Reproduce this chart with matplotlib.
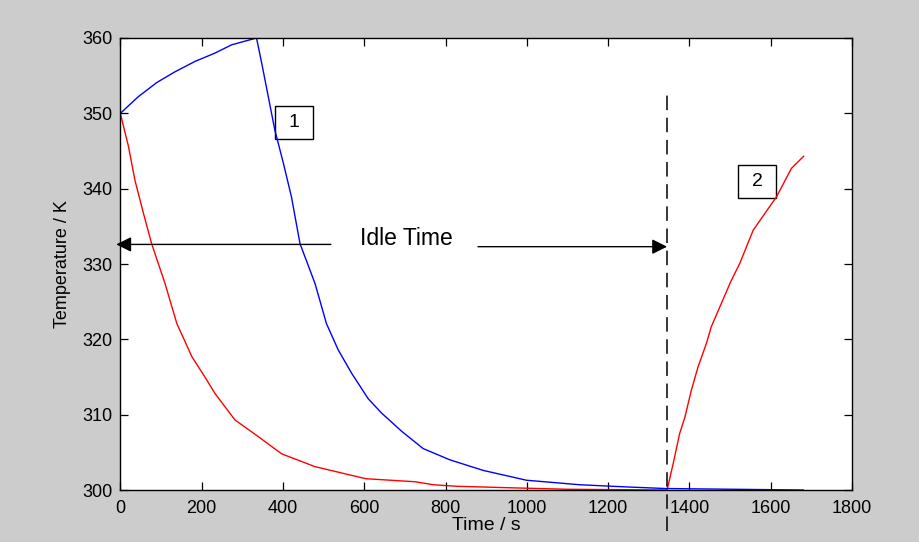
import matplotlib
matplotlib.use('Agg')
import matplotlib.pyplot as plt
from matplotlib.patches import Rectangle

plt.rcParams['font.family'] = ['Liberation Sans', 'DejaVu Sans']

# curve 1 (blue): heating then cooling down
blue_t = [0, 44, 90, 134, 184, 233, 274, 335, 348, 364, 380, 401, 421, 442,
          479, 507, 536, 569, 610, 643, 692, 745, 811, 893, 999, 1130, 1250,
          1340, 1680]
blue_T = [350.0, 352.2, 354.1, 355.5, 356.9, 358.0, 359.1, 360.0, 356.6,
          352.2, 347.8, 343.4, 338.9, 332.7, 327.4, 322.1, 318.6, 315.5, 312.1,
          310.2, 307.8, 305.5, 304.0, 302.6, 301.3, 300.7, 300.4, 300.2, 300.0]

# curve 2 (red): cooling, idle, then heating again
red_t = [0, 20, 36, 57, 77, 110, 139, 176, 208, 233, 282, 339, 397, 479, 604,
         725, 770, 827, 958, 1100, 1345, 1360, 1376, 1389, 1405, 1421, 1442,
         1454, 1470, 1502, 1524, 1557, 1614, 1651, 1681]
red_T = [350.0, 345.6, 341.1, 336.7, 332.7, 327.4, 322.1, 317.7, 315.0, 312.8,
         309.3, 307.1, 304.8, 303.1, 301.5, 301.1, 300.7, 300.5, 300.3, 300.1,
         300.0, 303.5, 307.5, 309.7, 313.3, 316.3, 319.5, 321.7, 323.7, 327.7,
         330.1, 334.5, 338.9, 342.7, 344.3]

t_restart = 1345
xticks = [0, 200, 400, 600, 800, 1000, 1200, 1400, 1600, 1800]
yticks = [300, 310, 320, 330, 340, 350, 360]

fig = plt.figure(figsize=(9.2, 5.42), dpi=100, facecolor='#cccccc')
ax = fig.add_axes([0.1308, 0.0959, 0.7953, 0.834])
ax.set_facecolor('white')

ax.plot(red_t, red_T, color='#ff0000', lw=1.0)
ax.plot(blue_t, blue_T, color='#0000ff', lw=1.0)

ax.plot([t_restart, t_restart], [294.6, 352.7], color='k', lw=1.1,
        dashes=(9.5, 5), clip_on=False)

arr = dict(arrowstyle='-|>,head_length=0.7,head_width=0.35', color='k',
           lw=1.0, mutation_scale=13, shrinkA=0, shrinkB=0)
ax.annotate('', xy=(-10, 332.6), xytext=(518, 332.6), arrowprops=arr,
            annotation_clip=False)
ax.annotate('', xy=(t_restart, 332.3), xytext=(880, 332.3), arrowprops=arr,
            annotation_clip=False)
ax.text(703, 333.4, 'Idle Time', fontsize=16.5, ha='center', va='center')

for cx, cy, lab in [(428, 348.8, '1'), (1567, 341.0, '2')]:
    ax.add_patch(Rectangle((cx - 47, cy - 2.2), 94, 4.4, fill=False,
                           ec='k', lw=1.0))
    ax.text(cx, cy, lab, fontsize=14, ha='center', va='center')

ax.set_xlim(0, 1800)
ax.set_ylim(300, 360)
ax.set_xticks(xticks)
ax.set_yticks(yticks)
ax.tick_params(direction='in', length=5.5, width=0.9, top=True, right=True,
               labelsize=13)
ax.tick_params(axis='x', pad=7.5)
ax.tick_params(axis='y', pad=5.5)
for s in ax.spines.values():
    s.set_linewidth(1.0)
ax.set_xlabel('Time / s', fontsize=14, labelpad=0)
ax.set_ylabel('Temperature / K', fontsize=13, labelpad=8)

fig.savefig('out.png', dpi=100, facecolor=fig.get_facecolor())
